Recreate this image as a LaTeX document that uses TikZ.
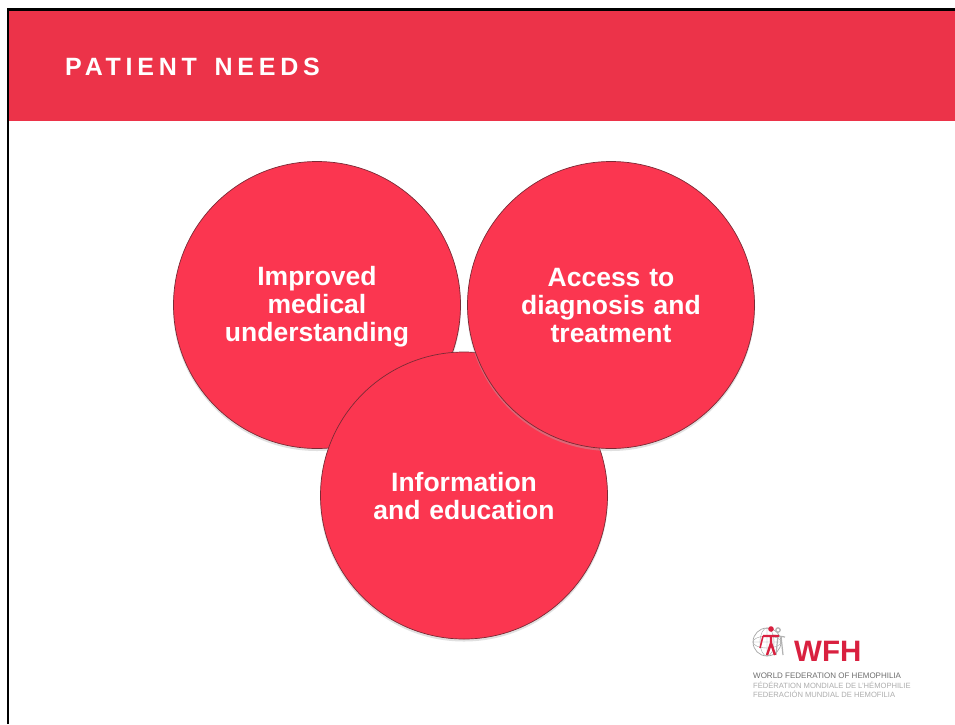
\documentclass[tikz,border=0pt]{standalone}
\usepackage{fontspec}
\setmainfont{Liberation Sans}
\definecolor{band}{HTML}{EC3349}
\definecolor{disc}{HTML}{FB3650}
\definecolor{discedge}{HTML}{7A2A35}
\definecolor{logored}{HTML}{D9203F}
\definecolor{logogray}{HTML}{8A8A8A}
\newcommand{\tophgt}[1]{\rule{0pt}{#1pt}}
\tikzset{
  disc/.style={circle,minimum size=287pt,inner sep=0pt,fill=disc,draw=discedge,line width=0.7pt,
    align=center,text=white,font=\fontsize{26.5}{28}\selectfont\bfseries,text width=200pt},
  small/.style={anchor=west,inner sep=0pt,font=\fontsize{7.6}{9}\selectfont}
}
\begin{document}
\begin{tikzpicture}[x=1pt,y=-1pt]
\useasboundingbox (0,0) rectangle (955,724);
\fill[white] (0,0) rectangle (955,724);
\fill[band] (9,10) rectangle (955,121);
\draw[black,line width=2.2pt] (8,724) -- (8,9.5) -- (955,9.5);
\node[anchor=west,inner sep=0pt,text=white,font=\fontsize{25}{28}\selectfont\bfseries] (title) at (65,67)
  {\addfontfeatures{LetterSpace=19}PATIENT\hspace{6pt} NEEDS};
\fill[black!30,opacity=.4] (317,307) circle (144);
\node[disc] (medical) at (317,305) {\tophgt{23}Improved\\medical\\understanding};
\fill[black!30,opacity=.4] (464,497.5) circle (144);
\node[disc] (info) at (464,495.5) {\tophgt{20}Information\\and education};
\fill[black!30,opacity=.4] (611,307) circle (144);
\node[disc] (access) at (611,305) {\tophgt{19.5}Access to\\diagnosis and\\treatment};
% logo
\begin{scope}
\draw[gray!70,line width=.7pt] (767,642) circle (14);
\draw[gray!70,line width=.4pt] (767,642) ellipse (7 and 14) (767,642) ellipse (14 and 6) (753,642) -- (781,642) (767,628) -- (767,656);
\draw[gray!60,line width=1.2pt,fill=white] (778,630) circle (2.2) (772,635) -- (785,637) (778,635) -- (776,655) (781,636) -- (783,655);
\fill[logored] (771,629) circle (2.8);
\draw[logored,line width=2.4pt] (763,636) -- (779,636) (771,636) -- (771,643) -- (767,655) (771,643) -- (775,655);
\draw[logored,line width=1.6pt] (763,636) -- (760,648);
\end{scope}
\node[anchor=west,inner sep=0pt,text=logored,font=\fontsize{29.5}{30}\selectfont\bfseries] (wfh) at (794,651) {WFH};
\node[small,font=\fontsize{8}{9}\selectfont,text=logogray!80!black] (en) at (753,675.5) {WORLD FEDERATION OF HEMOPHILIA};
\node[small,text=logogray!70] (fr) at (753,685) {FÉDÉRATION MONDIALE DE L’HÉMOPHILIE};
\node[small,text=logogray!70] (es) at (753,694.5) {FEDERACIÓN MUNDIAL DE HEMOFILIA};
\end{tikzpicture}
\end{document}
